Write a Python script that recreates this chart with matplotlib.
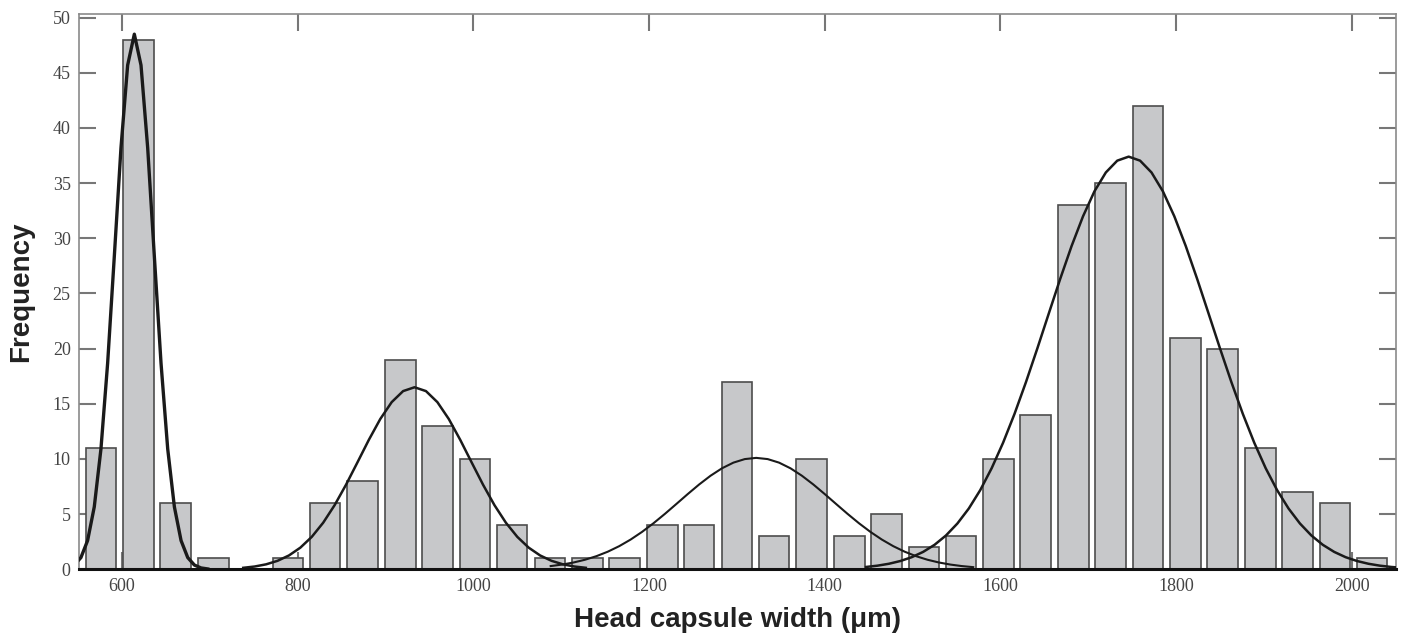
import numpy as np
import matplotlib
matplotlib.use('Agg')
import matplotlib.pyplot as plt

# histogram bins (centre of each bin, um) and counts
bin_centers = [576, 619, 661, 704, 746, 789, 831, 874, 917, 959,
               1002, 1044, 1087, 1130, 1172, 1215, 1257, 1300, 1342, 1385,
               1428, 1470, 1513, 1555, 1598, 1640, 1683, 1725, 1768, 1811,
               1853, 1896, 1938, 1981, 2023]
counts = [11, 48, 6, 1, 0, 1, 6, 8, 19, 13,
          10, 4, 1, 1, 1, 4, 4, 17, 3, 10,
          3, 5, 2, 3, 10, 14, 33, 35, 42, 21,
          20, 11, 7, 6, 1]

# fitted normal components: mean, sd, peak height, drawn range, sample step
comp_mean = [614, 933, 1322, 1746]
comp_sd = [22, 63, 88, 93]
comp_peak = [48.5, 16.5, 10.1, 37.4]
comp_from = [540, 735, 1085, 1440]
comp_to = [700, 1135, 1570, 2060]
comp_step = [7.6, 13, 13, 13]
comp_lw = [2.4, 1.8, 1.5, 1.8]

xticks = [600, 800, 1000, 1200, 1400, 1600, 1800, 2000]
yticks = [0, 5, 10, 15, 20, 25, 30, 35, 40, 45, 50]

fig = plt.figure(figsize=(14.03, 6.33), dpi=100)
ax = fig.add_axes([0.0563, 0.1006, 0.9385, 0.8768])

binw = bin_centers[1] - bin_centers[0]
ax.bar(bin_centers, counts, width=binw * 0.81, color='#c7c8ca',
       edgecolor='#4d4d4d', linewidth=1.2, zorder=2)

for m, s, p, a, b, st, lw in zip(comp_mean, comp_sd, comp_peak, comp_from,
                                 comp_to, comp_step, comp_lw):
    k = np.arange(np.ceil((a - m) / st), np.floor((b - m) / st) + 1)
    xs = m + k * st
    ys = p * np.exp(-0.5 * ((xs - m) / s) ** 2)
    ax.plot(xs, ys, color='#1a1a1a', linewidth=lw, zorder=3)

ax.set_xlim(551, 2050)
ax.set_ylim(0, 50.3)
ax.set_xticks(xticks)
ax.set_yticks(yticks)

for side in ['top', 'left', 'right']:
    ax.spines[side].set_color('#8a8a8a')
    ax.spines[side].set_linewidth(1.2)
ax.spines['bottom'].set_color('#111111')
ax.spines['bottom'].set_linewidth(2.2)
ax.spines['bottom'].set_zorder(4)

ax.tick_params(axis='both', direction='in', length=12, width=1.5, color='#777777',
               top=True, right=True, labelsize=13, labelcolor='#444444', pad=6)
for lab in ax.get_xticklabels() + ax.get_yticklabels():
    lab.set_family('Liberation Serif')

ax.set_xlabel('Head capsule width (\u03bcm)', fontsize=20, fontweight='bold',
              family='Liberation Sans', color='#222222', labelpad=9)
ax.set_ylabel('Frequency', fontsize=20, fontweight='bold',
              family='Liberation Sans', color='#222222', labelpad=13)

fig.savefig('out.png', dpi=100)
